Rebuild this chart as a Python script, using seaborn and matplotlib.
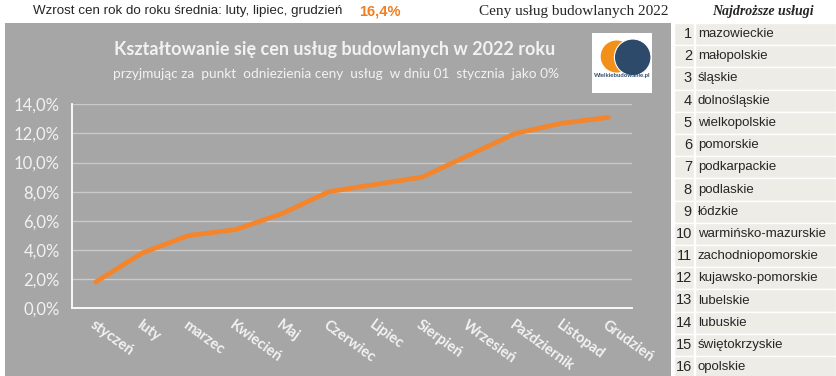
import pandas as pd
import matplotlib
matplotlib.use("Agg")
import matplotlib.pyplot as plt
from matplotlib.patches import Rectangle, Circle
from matplotlib.ticker import FuncFormatter
import seaborn as sns

# --- Dane ---
miesiace = ["styczeń", "luty", "marzec", "Kwiecień", "Maj", "Czerwiec",
            "Lipiec", "Sierpień", "Wrzesień", "Październik", "Listopad", "Grudzień"]
zmiana_cen = [0.018, 0.038, 0.050, 0.054, 0.065, 0.080,
              0.085, 0.090, 0.105, 0.120, 0.127, 0.131]

wojewodztwa = ["mazowieckie", "małopolskie", "śląskie", "dolnośląskie", "wielkopolskie",
               "pomorskie", "podkarpackie", "podlaskie", "łódzkie", "warmińsko-mazurskie",
               "zachodniopomorskie", "kujawsko-pomorskie", "lubelskie", "lubuskie",
               "świętokrzyskie", "opolskie"]

srednia_rr = "16,4%"

df = pd.DataFrame({"miesiac": miesiace, "zmiana": zmiana_cen})

W, H = 836, 376
def fx(px):
    return px / W
def fy(py):
    return 1 - py / H

SZARY = "#A6A6A6"
POMARANCZ = "#F5852B"
JASNY = "#F2F2F2"

sns.set_style("white")
plt.rcParams["font.family"] = ["Lato", "DejaVu Sans"]

fig = plt.figure(figsize=(W / 100, H / 100), dpi=100)
fig.patch.set_facecolor("white")

# tło panelu wykresu
fig.patches.append(Rectangle((fx(5), fy(376)), fx(671) - fx(5), fy(23) - fy(376),
                             transform=fig.transFigure, facecolor=SZARY, edgecolor="none", zorder=-2))

# --- Wykres ---
ax = fig.add_axes([fx(72.3), fy(308.3), fx(631.7) - fx(72.3), fy(104.3) - fy(308.3)])
ax.set_zorder(2)
ax.set_facecolor("none")
sns.lineplot(data=df, x="miesiac", y="zmiana", sort=False, color=POMARANCZ,
             linewidth=3.4, ax=ax, zorder=3)
ax.set_xlim(-0.5, 11.5)
ax.set_ylim(0, 0.14)
ax.set_yticks([i * 0.02 for i in range(8)])
ax.yaxis.set_major_formatter(FuncFormatter(lambda v, p: f"{v*100:.1f}%".replace(".", ",")))
ax.grid(axis="y", color="#C9C9C9", linewidth=1)
ax.set_axisbelow(True)
ax.set_xlabel("")
ax.set_ylabel("")
for s in ["top", "right"]:
    ax.spines[s].set_visible(False)
for s in ["left", "bottom"]:
    ax.spines[s].set_color("white")
    ax.spines[s].set_linewidth(1.3)
ax.tick_params(axis="y", colors="white", labelcolor=JASNY, labelsize=12,
               length=5, width=1, direction="out", pad=4)
ax.tick_params(axis="x", colors="white", labelcolor=JASNY, length=4, width=1,
               direction="in", pad=7)
ax.set_xticks(range(len(miesiace)))
ax.set_xticklabels(miesiace, rotation=-36, ha="left", va="top",
                   rotation_mode="anchor", fontsize=10.5, fontweight="bold")

# tytuły
fig.text(fx(335), fy(50), "Kształtowanie się cen usług budowlanych w 2022 roku",
         ha="center", va="center", color=JASNY, fontsize=13, fontweight="bold")
fig.text(fx(336), fy(74), "przyjmując za  punkt  odniezienia ceny  usług  w dniu 01  stycznia  jako 0%",
         ha="center", va="center", color=JASNY, fontsize=9.8)

# logo
lg = fig.add_axes([fx(592), fy(93), fx(652) - fx(592), fy(33) - fy(93)])
lg.set_zorder(3)
lg.set_xlim(0, 60)
lg.set_ylim(0, 60)
lg.axis("off")
lg.add_patch(Rectangle((0, 0), 60, 60, facecolor="white", edgecolor="none"))
lg.add_patch(Circle((24.7, 36.5), 16, facecolor="#F39019", edgecolor="none"))
lg.add_patch(Circle((40.7, 35.7), 18.3, facecolor="#2E4A6B", edgecolor="white", linewidth=0.8))
lg.text(30, 17, "Wielkiebudowanie.pl", ha="center", va="center", fontsize=4.3,
        color="#2E4A6B", fontweight="bold")

# --- Nagłówek ---
fig.text(fx(188), fy(11), "Wzrost cen rok do roku średnia: luty, lipiec, grudzień",
         ha="center", va="center", fontsize=9.6, family=["Liberation Sans", "DejaVu Sans"])
fig.text(fx(380), fy(11), srednia_rr, ha="center", va="center", fontsize=10.5,
         fontweight="bold", color="#F07F22", family=["Liberation Sans", "DejaVu Sans"])
fig.text(fx(574), fy(11), "Ceny usług budowlanych 2022", ha="center", va="center",
         fontsize=11, family=["Liberation Serif", "DejaVu Serif"])
fig.text(fx(763), fy(11), "Najdroższe usługi", ha="center", va="center", fontsize=10,
         fontweight="bold", style="italic", family=["Liberation Serif", "DejaVu Serif"])

# --- Tabela województw ---
top, h = 23, 22.2
for i, nazwa in enumerate(wojewodztwa):
    y0 = top + i * h
    fig.patches.append(Rectangle((fx(674), fy(y0 + h)), fx(694) - fx(674), fy(y0) - fy(y0 + h),
                                 transform=fig.transFigure, facecolor="#EEECE6",
                                 edgecolor="white", linewidth=1, zorder=-1))
    fig.patches.append(Rectangle((fx(695), fy(y0 + h)), fx(836) - fx(695), fy(y0) - fy(y0 + h),
                                 transform=fig.transFigure, facecolor="#EEECE6",
                                 edgecolor="white", linewidth=1, zorder=-1))
    fig.text(fx(692), fy(y0 + h / 2), str(i + 1), ha="right", va="center", fontsize=10.5,
             family=["Liberation Sans", "DejaVu Sans"])
    fig.text(fx(698), fy(y0 + h / 2), nazwa, ha="left", va="center", fontsize=9.5,
             family=["Liberation Sans", "DejaVu Sans"])

plt.savefig("out.png", dpi=100)
